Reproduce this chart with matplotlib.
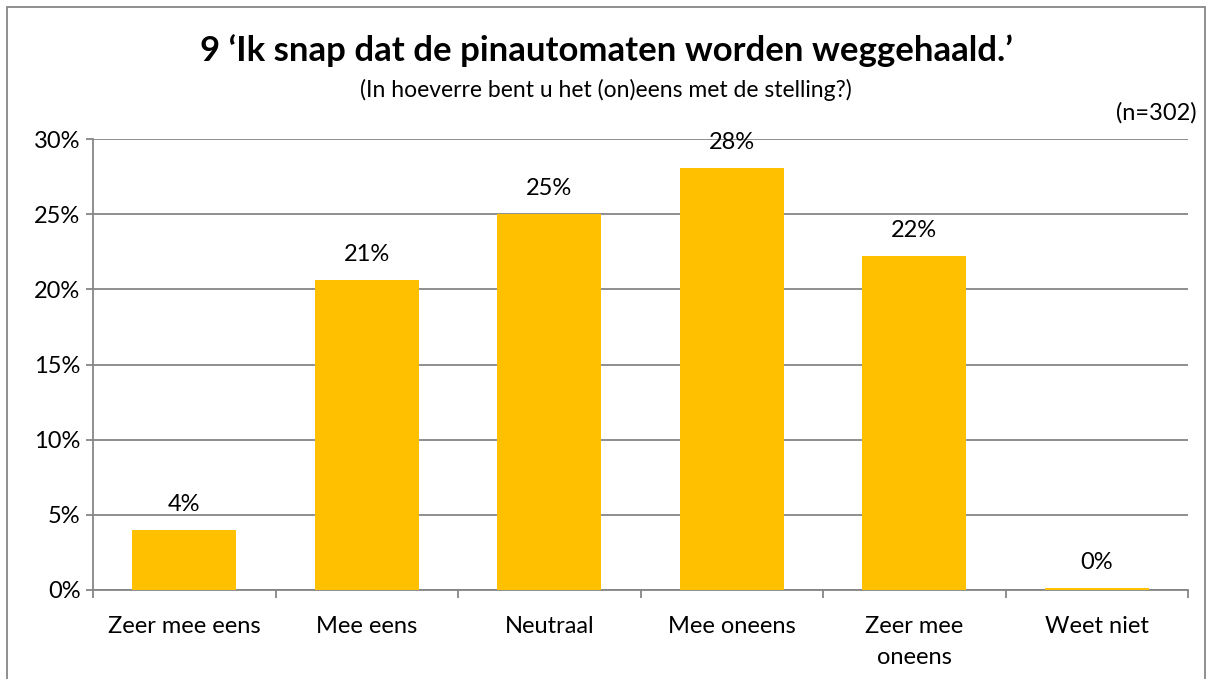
import numpy as np
import matplotlib.pyplot as plt
from matplotlib.patches import Rectangle
from matplotlib.ticker import FuncFormatter

categories = ["Zeer mee eens", "Mee eens", "Neutraal", "Mee oneens", "Zeer mee\noneens", "Weet niet"]
values = [4.0, 20.6, 25.0, 28.1, 22.2, 0.15]
labels = ["4%", "21%", "25%", "28%", "22%", "0%"]

plt.rcParams['font.family'] = ['Lato', 'DejaVu Sans']

fig = plt.figure(figsize=(12.12, 6.79), dpi=100)
ax = fig.add_axes([93/1212, 89/679, (1188-93)/1212, (590-139)/679])

x = np.arange(len(categories))
ax.bar(x, values, width=0.57, color='#FFC000', zorder=3)
for xi, v, lab in zip(x, values, labels):
    ax.text(xi, v + 1.0, lab, ha='center', va='bottom', fontsize=17)

ax.set_xlim(-0.5, 5.5)
ax.set_ylim(0, 30)
ax.set_yticks(np.arange(0, 31, 5))
ax.yaxis.set_major_formatter(FuncFormatter(lambda v, p: f"{int(v)}%"))
ax.yaxis.grid(True, color='#868686', linewidth=1.3, zorder=0)
ax.set_xticks(x)
ax.set_xticklabels(categories, fontsize=17, linespacing=1.55)
ax.set_xticks(np.arange(-0.5, 6, 1), minor=True)
ax.tick_params(axis='x', which='major', length=0, pad=19)
ax.tick_params(axis='x', which='minor', length=6, width=1.3, color='#868686')
ax.tick_params(axis='y', length=5, width=1.3, color='#868686', labelsize=17, pad=4)
for s in ['top', 'right']:
    ax.spines[s].set_visible(False)
for s in ['left', 'bottom']:
    ax.spines[s].set_color('#868686')
    ax.spines[s].set_linewidth(1.3)

fig.text(0.5, 1 - 51/679, "9 \u2018Ik snap dat de pinautomaten worden weggehaald.\u2019",
         ha='center', va='center', fontsize=25, fontweight='bold')
fig.text(0.5, 1 - 90/679, "(In hoeverre bent u het (on)eens met de stelling?)",
         ha='center', va='center', fontsize=16.5)
fig.text(1197/1212, 1 - 113/679, "(n=302)", ha='right', va='center', fontsize=17)

fig.patches.append(Rectangle((7/1212, -0.1), (1205-7)/1212, 1.1 - 7/679,
                             transform=fig.transFigure, fill=False,
                             edgecolor='#868686', linewidth=1.3))

fig.savefig("out.png", dpi=100)
